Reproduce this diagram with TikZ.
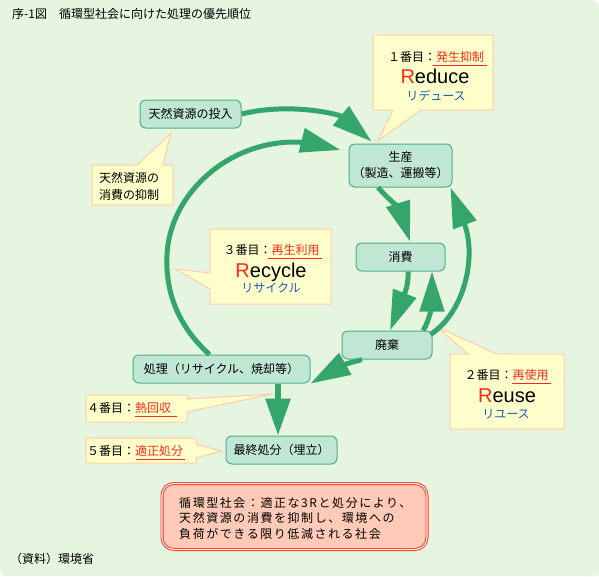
\documentclass[tikz,border=0pt]{standalone}
\usepackage{fontspec}
\newfontfamily\jp{Noto Sans CJK JP}
\newfontfamily\lat{Liberation Sans}
\usetikzlibrary{arrows.meta,calc}
\definecolor{bg}{HTML}{E5F5E0}
\definecolor{nfill}{HTML}{C0E6D4}
\definecolor{nborder}{HTML}{4DB08C}
\definecolor{arrg}{HTML}{34A66C}
\definecolor{cfill}{HTML}{FFFFCC}
\definecolor{cborder}{HTML}{FFCCAA}
\definecolor{redt}{HTML}{FF2A1A}
\definecolor{bluet}{HTML}{1A5CB8}
\definecolor{rfill}{HTML}{FFCBB8}
\definecolor{rborder}{HTML}{FF3322}
\begin{document}
\begin{tikzpicture}[x=1pt,y=-1pt,
 every node/.style={font=\jp\fontsize{12}{16}\selectfont, inner sep=0pt},
 box/.style={draw=nborder, fill=nfill, line width=1pt, rounded corners=6pt, align=center, minimum height=28pt},
 callout/.style={fill=cfill, draw=cborder, line width=1pt, line join=miter},
 arr/.style={draw=arrg, line width=5pt, -{Triangle[length=40pt,width=24pt]}},
 ul/.style={draw=redt, line width=1pt},
 big/.style={font=\lat\fontsize{20}{22}\selectfont, anchor=base},
 kana/.style={text=bluet},
]
\useasboundingbox (0,0) rectangle (599,576);
% background
\fill[white] (0,0) rectangle (599,576);
\fill[bg, rounded corners=7pt] (0,0) rectangle (599,576);
\fill[bg] (0,0) rectangle (20,20);
\fill[bg, rounded corners=3pt] (579,556) rectangle (599,576);

% title and source
\node[anchor=west] (title) at (12,14) {序-1図　循環型社会に向けた処理の優先順位};
\node[anchor=west] (src) at (10,559) {（資料）環境省};

% callouts
\path[callout] (373,35) -- (493,35) -- (493,110) -- (421,110) -- (378,141) -- (393,110) -- (373,110) -- cycle;
\path[callout] (92,165) -- (137,165) -- (171,133) -- (163,165) -- (173,165) -- (173,205) -- (92,205) -- cycle;
\path[callout] (210,229) -- (331,229) -- (331,304) -- (210,304) -- (210,289) -- (175,269) -- (210,273) -- cycle;
\path[callout] (450,354) -- (468,354) -- (437,327) -- (497,354) -- (564,354) -- (564,429) -- (450,429) -- cycle;
\path[callout] (86,395) -- (187,395) -- (187,399) -- (272,394) -- (187,412) -- (187,422) -- (86,422) -- cycle;
\path[callout] (86,438) -- (196,438) -- (196,444) -- (222,451) -- (196,458) -- (196,463) -- (86,463) -- cycle;

% callout texts
\node (t1a) at (436,57) {１番目：\textcolor{redt}{発生抑制}};
\draw[ul] (433,65) -- (487,65);
\node[big] (t1b) at (435,83) {\textcolor{redt}{R}educe};
\node[kana] (t1c) at (436,96) {リデュース};

\node[anchor=west, align=left, font=\jp\fontsize{12}{17}\selectfont] (c0) at (99,186.5) {天然資源の\\消費の抑制};

\node (t3a) at (271.5,250) {３番目：\textcolor{redt}{再生利用}};
\draw[ul] (268,258) -- (322,258);
\node[big] (t3b) at (271,277) {\textcolor{redt}{R}ecycle};
\node[kana] (t3c) at (271,288) {リサイクル};

\node (t2a) at (506.5,375) {２番目：\textcolor{redt}{再使用}};
\draw[ul] (512,383) -- (551,383);
\node[big] (t2b) at (507,402) {\textcolor{redt}{R}euse};
\node[kana] (t2c) at (506,414) {リユース};

\node[anchor=west] (t4) at (87,408) {４番目：\textcolor{redt}{熱回収}};
\draw[ul] (135,416) -- (177,416);
\node[anchor=west] (t5) at (87,451) {５番目：\textcolor{redt}{適正処分}};
\draw[ul] (136,459) -- (185,459);

% main nodes
\node[box, minimum width=101pt] (touny) at (190.5,114) {天然資源の投入};
\node[box, minimum width=103pt, minimum height=43pt] (seisan) at (400.5,165.5) {生産\\（製造、運搬等）};
\node[box, minimum width=89pt] (shouhi) at (400.5,257) {消費};
\node[box, minimum width=90pt] (haiki) at (387,345) {廃棄};
\node[box, minimum width=177pt] (shori) at (221.5,369) {処理（リサイクル、焼却等）};
\node[box, minimum width=111pt] (saishu) at (281.5,450) {最終処分（埋立）};

% goal box
\node[draw=rborder, double=rfill!40!white, double distance=1.2pt, line width=0.9pt, fill=rfill, rounded corners=12pt, minimum width=265pt, minimum height=66pt] (goal) at (294.5,516.5) {};
\node[anchor=west, align=left, font=\jp\fontsize{12}{15.5}\selectfont\addfontfeature{LetterSpace=13}] (goaltext) at (179,518) {循環型社会：適正な3Rと処分により、\\天然資源の消費を抑制し、環境への\\負荷ができる限り低減される社会};

% arrows
\draw[arr] (touny.east) .. controls +(49,-12) and +(-32,-27) .. ($(seisan.north west)+(23,-2)$);
\draw[arr] ($(shori.north)+(-12,0)$) .. controls +(-29,-26) and (165,295) .. (167,255) .. controls (169,200) and (220,145) .. (290,142) .. controls (312,142) and +(-16,-4) .. ($(seisan.west)+(-8,-15.5)$);
\draw[arr] ($(seisan.south)+(-22.5,0)$) .. controls +(12,13) and +(-10,-32) .. ($(shouhi.north)+(9.5,-1)$);
\draw[arr] ($(shouhi.south)+(7.5,0)$) .. controls +(1,14) and +(13,-33) .. ($(haiki.north)+(3,0)$);
\draw[arr] ($(haiki.north)+(36,0)$) .. controls +(7,-10) and +(0,30) .. ($(shouhi.south)+(31.5,0)$);
\draw[arr] ($(haiki.north east)+(-2,4)$) .. controls +(35,-23) and +(26,68) .. ($(seisan.south east)+(-2,0)$);
\draw[arr] ($(haiki.south)+(-25,0)$) .. controls +(-18,5) .. (shori.south east);
\draw[arr, line width=6pt, -{Triangle[length=37pt,width=24pt]}] ($(shori.south)+(56.5,0)$) -- ($(saishu.north)+(-3.5,0)$);
\end{tikzpicture}
\end{document}
